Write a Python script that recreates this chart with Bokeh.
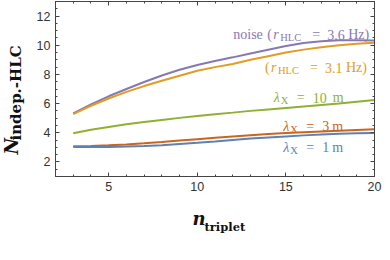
import numpy as np
from bokeh.plotting import figure
from bokeh.models import Label, LinearAxis, Range1d, FixedTicker, Title
from bokeh.embed import file_html
from bokeh.resources import INLINE

# ---------------- data ----------------
n_triplet = [3, 4, 5, 6, 7, 8, 9, 10, 11, 12, 13, 14, 15, 16, 17, 18, 19, 20]
noise_36hz = [5.33, 5.95, 6.50, 7.00, 7.48, 7.93, 8.32, 8.65, 8.92, 9.17, 9.43, 9.69, 9.95, 10.15, 10.28, 10.34, 10.34, 10.32]
rate_31hz = [5.28, 5.85, 6.35, 6.80, 7.20, 7.56, 7.91, 8.25, 8.50, 8.72, 9.00, 9.25, 9.50, 9.70, 9.87, 10.00, 10.10, 10.17]
lambda_10m = [3.97, 4.20, 4.40, 4.58, 4.73, 4.88, 5.02, 5.15, 5.27, 5.38, 5.50, 5.60, 5.70, 5.80, 5.90, 6.00, 6.12, 6.24]
lambda_3m = [3.08, 3.10, 3.14, 3.20, 3.28, 3.37, 3.47, 3.56, 3.65, 3.74, 3.83, 3.91, 3.98, 4.04, 4.09, 4.14, 4.19, 4.24]
lambda_1m = [3.03, 3.02, 3.03, 3.05, 3.09, 3.15, 3.23, 3.31, 3.40, 3.50, 3.60, 3.68, 3.75, 3.82, 3.88, 3.93, 3.96, 3.99]

x_major = [5, 10, 15, 20]
x_minor = list(range(2, 21))
y_major = [2, 4, 6, 8, 10, 12]
y_minor = [v / 2 for v in range(2, 27)]

C_PURPLE = "#8778b3"
C_ORANGE = "#e19c24"
C_GREEN = "#8fb032"
C_BROWN = "#c9651d"
C_BLUE = "#5e81b5"
FRAME = "#444444"
INK = "#111111"

p = figure(width=382, height=244, output_backend="svg", toolbar_location=None,
           x_range=Range1d(2, 20), y_range=Range1d(1, 13),
           min_border_left=50, min_border_right=8, min_border_top=1, min_border_bottom=47,
           x_axis_type=None, y_axis_type=None)
p.xgrid.visible = False
p.ygrid.visible = False
p.outline_line_color = FRAME
p.outline_line_width = 1
p.background_fill_color = "white"
p.border_fill_color = "white"

def style_axis(ax, ticker, labels=True):
    ax.ticker = ticker
    ax.axis_line_color = FRAME
    ax.major_tick_line_color = FRAME
    ax.minor_tick_line_color = FRAME
    ax.major_tick_in = 4
    ax.major_tick_out = 0
    ax.minor_tick_in = 2
    ax.minor_tick_out = 0
    if labels:
        ax.major_label_text_font = "Liberation Sans"
        ax.major_label_text_font_size = "12.5px"
        ax.major_label_text_color = "#333333"
        ax.major_label_standoff = 5
    else:
        ax.major_label_overrides = {t: "" for t in ticker.ticks}
        ax.major_label_standoff = 0

xt = FixedTicker(ticks=x_major, minor_ticks=x_minor)
yt = FixedTicker(ticks=y_major, minor_ticks=y_minor)
for loc, tick, lab in [("below", xt, True), ("above", xt, False)]:
    ax = LinearAxis()
    style_axis(ax, tick, lab)
    p.add_layout(ax, loc)
for loc, tick, lab in [("left", yt, True), ("right", yt, False)]:
    ax = LinearAxis()
    style_axis(ax, tick, lab)
    p.add_layout(ax, loc)

series = [(noise_36hz, C_PURPLE), (rate_31hz, C_ORANGE), (lambda_10m, C_GREEN),
          (lambda_3m, C_BROWN), (lambda_1m, C_BLUE)]
for ys, c in series:
    p.line(n_triplet, ys, line_color=c, line_width=2)

SERIF = "Liberation Serif"

def put(x, y, parts, color, font=SERIF):
    for txt, dx, dy, size, style in parts:
        p.add_layout(Label(x=x, y=y, x_offset=dx, y_offset=dy, text=txt,
                           text_color=color, text_font=font,
                           text_font_size=f"{size}px", text_font_style=style,
                           text_align="left", text_baseline="alphabetic"))

def rate_parts(start, digits):
    return [("(", start + 0, 0, 14, "normal"),
            ("r", start + 6, 0, 14, "italic"),
            ("HLC", start + 13, -3, 10.5, "normal"),
            ("=", start + 45, 0, 14, "normal"),
            (digits, start + 60, 0, 14, "normal"),
            ("Hz)", start + 81, 0, 14, "normal")]

put(12.03, 10.73, [("noise", 0, 0, 14, "normal")] + rate_parts(34, "3.6"), C_PURPLE)
put(13.82, 8.45, rate_parts(0, "3.1"), C_ORANGE)

def lam_parts(val, num_dx, m_dx):
    return [("λ", 0, 0, 14, "italic"),
            ("X", 7, -3, 10.5, "normal"),
            ("=", 23, 0, 14, "normal"),
            (val, num_dx, 0, 14, "normal"),
            ("m", m_dx, 0, 14, "normal")]

put(14.31, 6.40, lam_parts("10", 39, 59), C_GREEN)
put(14.85, 4.43, lam_parts("3", 39, 49), C_BROWN)
put(14.85, 3.00, lam_parts("1", 39, 49), C_BLUE)

# ---------------- axis titles (side-panel titles) ----------------
TITLE_FONT = "DejaVu Serif"

def side_title(text, side, offset, standoff, size, style, valign="top"):
    t = Title(text=text, align="left", offset=offset, standoff=standoff,
              vertical_align=valign, text_font=TITLE_FONT,
              text_font_size=f"{size}px", text_font_style=style, text_color=INK)
    p.add_layout(t, side)

side_title("n", "below", 137, 28, 18, "bold italic")
side_title("triplet", "below", 149, -49, 11.5, "bold")
side_title("indep.-HLC", "left", 36, 13, 15, "bold")
side_title("N", "left", 22, -43, 18, "bold italic", valign="bottom")

open("out.html", "w").write(file_html(p, INLINE))
